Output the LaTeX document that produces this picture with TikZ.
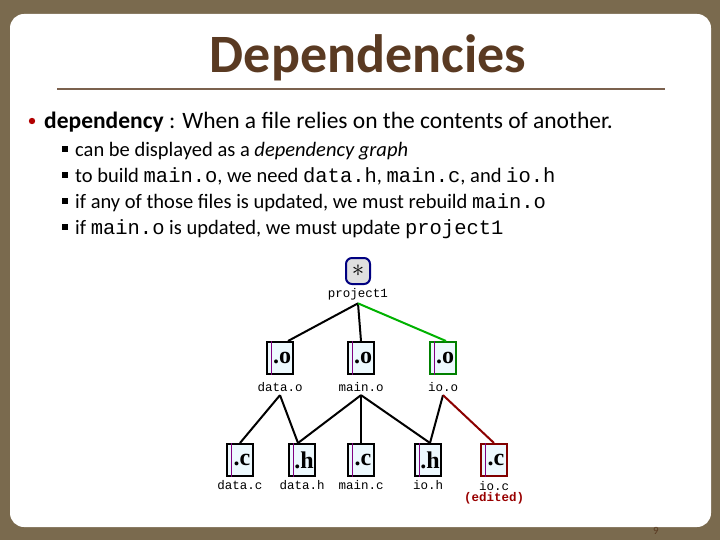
\documentclass[tikz,border=0pt]{standalone}
\usepackage{fontspec}
\setmainfont{Carlito}
\newfontfamily\mono{Liberation Mono}
\newfontfamily\iconf{Liberation Serif}
\begin{document}
\begin{tikzpicture}[x=1pt,y=-1pt,
  fic/.style={draw=black,line width=2pt,fill=cyan!7,minimum width=26pt,minimum height=32pt,inner sep=0pt,font=\iconf\fontsize{24}{24}\selectfont\bfseries},
  flab/.style={font=\mono\fontsize{12.5}{12.5}\selectfont},
  dep/.style={line width=2pt},
  sub/.style={anchor=base west,font=\fontsize{20.5}{20.5}\selectfont},
  ]
\definecolor{frame}{HTML}{7A6A4E}
\definecolor{ttl}{HTML}{5A3A22}
\useasboundingbox (0,0) rectangle (720,540);
\fill[frame] (0,0) rectangle (720,540);
\fill[white,rounded corners=14pt] (10,14) rectangle (711,527);
\node[font=\fontsize{54}{54}\selectfont\bfseries,text=ttl] (title) at (368,58) {Dependencies};
\draw[line width=1.2pt,ttl!80] (57,89) -- (665,89);
\fill[red!70!black] (32,121) circle (3.2pt);
\node[anchor=base west,font=\fontsize{23.5}{23.5}\selectfont,inner sep=0pt] (l0) at (44,129) {\textbf{dependency} : When a file relies on the contents of another.};
\foreach \y/\n in {150/1,176/2,202/3,228/4}{\fill (62,\y-4) rectangle (68,\y+2);}
\node[sub,inner sep=0pt] (l1) at (75,157) {can be displayed as a \textit{dependency graph}};
\node[sub,inner sep=0pt] (l2) at (75,183) {to build {\mono main.o}, we need {\mono data.h}, {\mono main.c}, and {\mono io.h}};
\node[sub,inner sep=0pt] (l3) at (75,209) {if any of those files is updated, we must rebuild {\mono main.o}};
\node[sub,inner sep=0pt] (l4) at (75,235) {if {\mono main.o} is updated, we must update {\mono project1}};
% root
\node[draw=blue!50!black,line width=2pt,fill=gray!25,rounded corners=6pt,minimum width=24pt,minimum height=26pt,inner sep=0pt,font=\fontsize{24}{24}\selectfont] (root) at (358,271) {$\ast$};
\node[flab] (rootl) at (358,294) {project1};
% .o files
\foreach \n/\x/\c in {dato/280/black,maino/361/black,ioo/443/green!50!black}{
  \node[fic,draw=\c] (\n) at (\x,358) {\hspace{4pt}.o};
  \draw[violet,line width=0.7pt] ([xshift=5pt]\n.north west) -- ([xshift=5pt]\n.south west);
}
\node[flab] (datol) at (280,387) {data.o};
\node[flab] (mainol) at (361,387) {main.o};
\node[flab] (iool) at (443,387) {io.o};
% bottom
\foreach \n/\x/\t/\c in {datc/240/.c/black,dath/302/.h/black,mainc/361/.c/black,ioh/428/.h/black,ioc/494/.c/red!50!black}{
  \node[fic,draw=\c] (\n) at (\x,460) {\hspace{4pt}\t};
  \draw[violet,line width=0.7pt] ([xshift=5pt]\n.north west) -- ([xshift=5pt]\n.south west);
}
\node[flab] (datcl) at (240,485) {data.c};
\node[flab] (dathl) at (302,485) {data.h};
\node[flab] (maincl) at (361,485) {main.c};
\node[flab] (iohl) at (428,485) {io.h};
\node[flab] (iocl) at (494,486) {io.c};
\node[flab,font=\mono\bfseries\fontsize{12.5}{12.5}\selectfont,text=red!60!black] (ed) at (494,498) {(edited)};
% edges
\draw[dep] (rootl.south) -- ([xshift=8pt]dato.north);
\draw[dep] (rootl.south) -- (maino.north);
\draw[dep,green!70!black] (rootl.south) -- ([xshift=3pt]ioo.north);
\draw[dep] (datol.south) -- (datc.north);
\draw[dep] (datol.south) -- ([xshift=-4pt]dath.north);
\draw[dep] (mainol.south) -- ([xshift=-4pt]dath.north);
\draw[dep] (mainol.south) -- (mainc.north);
\draw[dep] (mainol.south) -- ([xshift=2pt]ioh.north);
\draw[dep] (iool.south) -- ([xshift=2pt]ioh.north);
\draw[dep,red!55!black] (iool.south) -- (ioc.north);
\node[font=\fontsize{11}{11}\selectfont,text=ttl] (pg) at (656,531) {9};
\end{tikzpicture}
\end{document}
